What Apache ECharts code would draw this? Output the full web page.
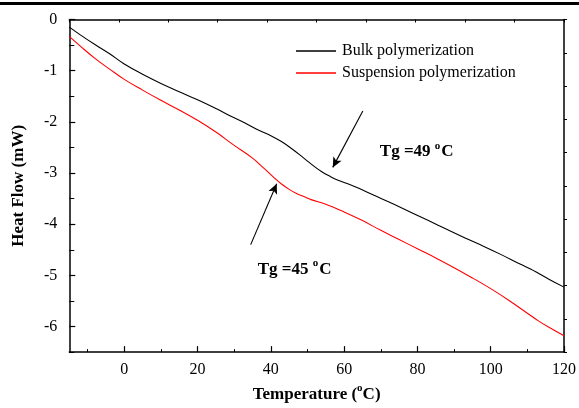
<!DOCTYPE html>
<html>
<head>
<meta charset="utf-8">
<script src="https://cdn.jsdelivr.net/npm/echarts@6/dist/echarts.min.js"></script>
<style>
html,body{margin:0;padding:0;background:#fff;}
#chart{width:579px;height:408px;}
</style>
</head>
<body>
<div id="chart"></div>
<script>
// ---- data ----
var bulkT  = [-15,-12,-8,-4,0,5,10,15,20,25,28,32,36,40,43,46,49,52,54,56,58,61,64,68,73,78,83,88,93,98,103,108,111,113,116,120];
var bulkHF = [-0.15,-0.30,-0.49,-0.67,-0.87,-1.07,-1.25,-1.41,-1.57,-1.74,-1.85,-1.99,-2.14,-2.27,-2.39,-2.54,-2.71,-2.88,-2.98,-3.06,-3.13,-3.21,-3.30,-3.43,-3.59,-3.76,-3.93,-4.10,-4.27,-4.43,-4.60,-4.78,-4.88,-4.96,-5.08,-5.23];
var suspT  = [-15,-12,-8,-4,0,5,10,15,20,25,30,35,38,41,43,45,47,49,51,55,60,65,70,75,80,85,90,95,100,105,110,113,116,120];
var suspHF = [-0.33,-0.52,-0.76,-0.97,-1.17,-1.38,-1.58,-1.77,-1.97,-2.20,-2.46,-2.71,-2.90,-3.10,-3.22,-3.32,-3.40,-3.46,-3.52,-3.61,-3.76,-3.93,-4.12,-4.30,-4.48,-4.66,-4.85,-5.05,-5.26,-5.49,-5.74,-5.89,-6.02,-6.18];
var seriesNames = ['Bulk polymerization','Suspension polymerization'];
var xTicks = [0,20,40,60,80,100,120];
var xMinorTicks = [-10,10,30,50,70,90,110];
var yTicks = [0,-1,-2,-3,-4,-5,-6];
var yMinorTicks = [-0.5,-1.5,-2.5,-3.5,-4.5,-5.5,-6.5];
var tgBulk = {label:'49', arrowFrom:[65.1,-1.79], arrowTo:[56.9,-2.89], textAt:[79.8,-2.56]};
var tgSusp = {label:'45', arrowFrom:[34.5,-4.40], arrowTo:[41.6,-3.21], textAt:[46.5,-4.85]};

function pairs(xs, ys){ return xs.map(function(x,i){ return [x, ys[i]]; }); }

var FONT = '"Liberation Serif", "Times New Roman", serif';
var chart = echarts.init(document.getElementById('chart'), null, {renderer:'canvas'});

function tgLabel(v){
  return '{a|Tg =' + v + ' }{s|o}{a|C}';
}
var richTg = {
  a:{fontFamily:FONT,fontWeight:'bold',fontSize:17,color:'#000',lineHeight:20,verticalAlign:'bottom'},
  s:{fontFamily:FONT,fontWeight:'bold',fontSize:11,color:'#000',lineHeight:20,verticalAlign:'top',padding:[0,1,0,0]}
};
var richName = {
  a:{fontFamily:FONT,fontWeight:'bold',fontSize:17,color:'#000',lineHeight:20,verticalAlign:'bottom'},
  s:{fontFamily:FONT,fontWeight:'bold',fontSize:11,color:'#000',lineHeight:20,verticalAlign:'top'}
};

var axisLineStyle = {color:'#000', width:1.5};

var option = {
  animation:false,
  backgroundColor:'#fff',
  textStyle:{fontFamily:FONT},
  grid:{left:69.3, top:19.5, right:14.7, bottom:49},
  legend:{
    orient:'vertical', left:296, top:43, padding:0, itemWidth:40, itemHeight:1.3, itemGap:6,
    icon:'rect',
    textStyle:{fontFamily:'serif', fontWeight:'normal', fontSize:16, color:'#000', padding:[0,0,0,1]},
    data:seriesNames
  },
  xAxis:[
    {type:'value', min:-15, max:120, position:'bottom',
     name:'{a|Temperature (}{s|o}{a|C)}', nameLocation:'middle', nameGap:24,
     nameTextStyle:{fontFamily:FONT, fontWeight:'bold', fontSize:17, color:'#000', verticalAlign:'top', rich:richName},
     axisLine:{show:true, onZero:false, lineStyle:axisLineStyle},
     axisTick:{show:true, inside:true, length:6, customValues:xTicks, lineStyle:{color:'#000',width:1.2}},
     axisLabel:{show:true, customValues:xTicks, margin:10, fontFamily:'Liberation Serif', fontWeight:'normal', fontSize:16, color:'#000'},
     splitLine:{show:false}},
    {type:'value', min:0, max:10, interval:1, position:'top',
     axisLine:{show:true, onZero:false, lineStyle:axisLineStyle},
     axisTick:{show:true, inside:true, length:3, lineStyle:{color:'#000',width:1}},
     axisLabel:{show:false}, splitLine:{show:false}},
    {type:'value', min:-15, max:120, position:'bottom', offset:0,
     axisLine:{show:false, onZero:false},
     axisTick:{show:true, inside:true, length:3, customValues:xMinorTicks, lineStyle:{color:'#000',width:1}},
     axisLabel:{show:false}, splitLine:{show:false}}
  ],
  yAxis:[
    {type:'value', min:-6.5, max:0, position:'left',
     name:'Heat Flow (mW)', nameLocation:'middle', nameGap:42, nameRotate:90,
     nameTextStyle:{fontFamily:FONT, fontWeight:'bold', fontSize:17, color:'#000'},
     axisLine:{show:true, onZero:false, lineStyle:axisLineStyle},
     axisTick:{show:true, inside:true, length:6, customValues:yTicks, lineStyle:{color:'#000',width:1.2}},
     axisLabel:{show:true, customValues:yTicks, margin:12, fontFamily:'Times New Roman', fontWeight:'normal', fontSize:16, color:'#000'},
     splitLine:{show:false}},
    {type:'value', min:0, max:10, interval:1, position:'right',
     axisLine:{show:true, onZero:false, lineStyle:axisLineStyle},
     axisTick:{show:true, inside:false, length:3, lineStyle:{color:'#000',width:1}},
     axisLabel:{show:false}, splitLine:{show:false}},
    {type:'value', min:-6.5, max:0, position:'left', offset:0,
     axisLine:{show:false, onZero:false},
     axisTick:{show:true, inside:true, length:5, customValues:yMinorTicks, lineStyle:{color:'#000',width:1}},
     axisLabel:{show:false}, splitLine:{show:false}}
  ],
  series:[
    {name:seriesNames[0], type:'line', xAxisIndex:0, yAxisIndex:0, data:pairs(bulkT,bulkHF),
     smooth:0.4, symbol:'none', lineStyle:{color:'#000', width:1.1}, itemStyle:{color:'#000'},
     markLine:{silent:true, symbol:['none','arrow'], symbolSize:[7,10], label:{show:false},
       lineStyle:{color:'#000', width:1.1, type:'solid'},
       data:[[{coord:tgBulk.arrowFrom},{coord:tgBulk.arrowTo}],[{coord:tgSusp.arrowFrom},{coord:tgSusp.arrowTo}]]},
     markPoint:{silent:true, symbol:'circle', symbolSize:1, itemStyle:{color:'rgba(0,0,0,0)'},
       label:{show:true, position:'inside', rich:richTg},
       data:[{coord:tgBulk.textAt, label:{formatter:tgLabel(tgBulk.label)}},
             {coord:tgSusp.textAt, label:{formatter:tgLabel(tgSusp.label)}}]}
    },
    {name:seriesNames[1], type:'line', xAxisIndex:0, yAxisIndex:0, data:pairs(suspT,suspHF),
     smooth:0.4, symbol:'none', lineStyle:{color:'#ff0000', width:1.1}, itemStyle:{color:'#ff0000'}}
  ],
  graphic:[
    {type:'rect', shape:{x:0, y:2, width:579, height:3}, style:{fill:'#000'}}
  ]
};
chart.setOption(option);
</script>
</body>
</html>
